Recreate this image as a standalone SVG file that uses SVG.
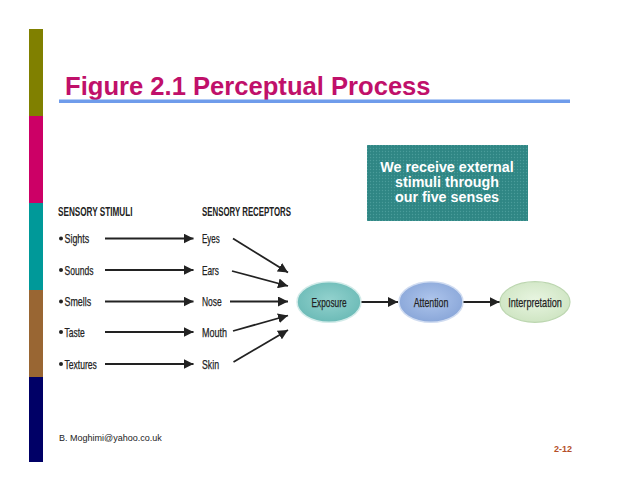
<svg xmlns="http://www.w3.org/2000/svg" width="638" height="493" viewBox="0 0 638 493">
<style>
.lbl{font-family:"Liberation Sans Narrow","Liberation Sans",Arial,sans-serif;font-size:13px;fill:#222;stroke:#222;stroke-width:0.25}
.hdr{font-family:"Liberation Sans Narrow","Liberation Sans",Arial,sans-serif;font-size:12px;font-weight:bold;fill:#222}
.node-t{font-family:"Liberation Sans Narrow","Liberation Sans",Arial,sans-serif;font-size:13px;fill:#222;stroke:#222;stroke-width:0.25;text-anchor:middle}
.box-t{font-family:"Liberation Sans",Arial,sans-serif;font-size:14.3px;font-weight:bold;fill:#fff;text-anchor:middle}
.conn line{stroke:#222;stroke-width:1.8;marker-end:url(#ah)}
</style>
<defs>
<marker id="ah" markerUnits="userSpaceOnUse" markerWidth="10" markerHeight="10" refX="10" refY="5" orient="auto">
<path d="M0,0 L10,5 L0,10 z" fill="#222"/>
</marker>
<radialGradient id="gExp" cx="50%" cy="45%" r="55%">
<stop offset="0" stop-color="#93D2CE"/><stop offset="1" stop-color="#6CBBB7"/>
</radialGradient>
<radialGradient id="gAtt" cx="50%" cy="45%" r="55%">
<stop offset="0" stop-color="#AEC5EC"/><stop offset="1" stop-color="#8AA7D9"/>
</radialGradient>
<radialGradient id="gInt" cx="50%" cy="45%" r="55%">
<stop offset="0" stop-color="#E8F5E1"/><stop offset="1" stop-color="#CFE5C3"/>
</radialGradient>
<pattern id="dots" width="3" height="3" patternUnits="userSpaceOnUse">
<rect width="3" height="3" fill="#2F8684"/>
<circle cx="1.5" cy="1.5" r="0.7" fill="#4A9C9A"/>
</pattern>
</defs>
<rect width="638" height="493" fill="#fff"/>
<g id="sidebar">
<rect x="29" y="29" width="14" height="87" fill="#808000"/>
<rect x="29" y="116" width="14" height="87" fill="#CC0066"/>
<rect x="29" y="203" width="14" height="87" fill="#009999"/>
<rect x="29" y="290" width="14" height="87" fill="#996633"/>
<rect x="29" y="377" width="14" height="85" fill="#000066"/>
</g>
<g id="title">
<text x="65" y="94.5" font-family="Liberation Sans,Arial,sans-serif" font-size="25.6" font-weight="bold" fill="#C0106A">Figure 2.1 Perceptual Process</text>
<rect x="59" y="99.5" width="511" height="3.5" fill="#6F9CEB"/>
</g>
<g id="callout">
<rect x="367" y="145" width="161" height="76" fill="url(#dots)"/>
<text class="box-t" x="447" y="171.5">We receive external</text>
<text class="box-t" x="447" y="187">stimuli through</text>
<text class="box-t" x="447" y="202">our five senses</text>
</g>
<g id="headers">
<text class="hdr" x="58" y="216" textLength="74.5" lengthAdjust="spacingAndGlyphs">SENSORY STIMULI</text>
<text class="hdr" x="202" y="216" textLength="89" lengthAdjust="spacingAndGlyphs">SENSORY RECEPTORS</text>
</g>
<g id="stimuli">
<circle cx="61" cy="238.5" r="2" fill="#222"/><text class="lbl" x="64.5" y="243" textLength="24.7" lengthAdjust="spacingAndGlyphs">Sights</text>
<circle cx="61" cy="270" r="2" fill="#222"/><text class="lbl" x="64.5" y="274.5" textLength="29" lengthAdjust="spacingAndGlyphs">Sounds</text>
<circle cx="61" cy="301.5" r="2" fill="#222"/><text class="lbl" x="64.5" y="306" textLength="26.7" lengthAdjust="spacingAndGlyphs">Smells</text>
<circle cx="61" cy="332" r="2" fill="#222"/><text class="lbl" x="64.5" y="336.5" textLength="20.3" lengthAdjust="spacingAndGlyphs">Taste</text>
<circle cx="61" cy="364" r="2" fill="#222"/><text class="lbl" x="64.5" y="368.5" textLength="32.4" lengthAdjust="spacingAndGlyphs">Textures</text>
</g>
<g id="receptors">
<text class="lbl" x="202" y="243" textLength="17.7" lengthAdjust="spacingAndGlyphs">Eyes</text>
<text class="lbl" x="202" y="274.5" textLength="17" lengthAdjust="spacingAndGlyphs">Ears</text>
<text class="lbl" x="202" y="306" textLength="19.7" lengthAdjust="spacingAndGlyphs">Nose</text>
<text class="lbl" x="202" y="336.5" textLength="25" lengthAdjust="spacingAndGlyphs">Mouth</text>
<text class="lbl" x="202" y="368.5" textLength="17" lengthAdjust="spacingAndGlyphs">Skin</text>
</g>
<g id="exposure">
<ellipse cx="329" cy="302" rx="32" ry="20.3" fill="url(#gExp)" stroke="#D2EBE9" stroke-width="1.5"/>
<text class="node-t" x="329" y="306.5" textLength="35" lengthAdjust="spacingAndGlyphs">Exposure</text>
</g>
<g id="attention">
<ellipse cx="431" cy="302" rx="32" ry="20.3" fill="url(#gAtt)" stroke="#D0DCF1" stroke-width="1.5"/>
<text class="node-t" x="431" y="306.5" textLength="34.7" lengthAdjust="spacingAndGlyphs">Attention</text>
</g>
<g id="interpretation">
<ellipse cx="535" cy="302" rx="35" ry="20.3" fill="url(#gInt)" stroke="#BCD6B0" stroke-width="1.2"/>
<text class="node-t" x="535" y="306.5" textLength="53.7" lengthAdjust="spacingAndGlyphs">Interpretation</text>
</g>
<g id="connectors" class="conn">
<line x1="105" y1="238.5" x2="193.5" y2="238.5"/>
<line x1="105" y1="270" x2="193.5" y2="270"/>
<line x1="105" y1="301.5" x2="193.5" y2="301.5"/>
<line x1="105" y1="332" x2="193.5" y2="332"/>
<line x1="105" y1="364" x2="193.5" y2="364"/>
<line x1="233" y1="238.5" x2="288" y2="272.5"/>
<line x1="232" y1="271" x2="288" y2="286"/>
<line x1="230" y1="301.5" x2="288" y2="301.5"/>
<line x1="233" y1="331" x2="288" y2="315.5"/>
<line x1="233.5" y1="362" x2="288" y2="330"/>
<line x1="361.5" y1="302" x2="398" y2="302"/>
<line x1="463.5" y1="302" x2="499.5" y2="302"/>
</g>
<g id="footer">
<text x="59" y="441" font-family="Liberation Sans,Arial,sans-serif" font-size="9" fill="#222">B. Moghimi@yahoo.co.uk</text>
<text x="554" y="452" font-family="Liberation Sans,Arial,sans-serif" font-size="9" font-weight="bold" fill="#B5502A">2-12</text>
</g>
</svg>
